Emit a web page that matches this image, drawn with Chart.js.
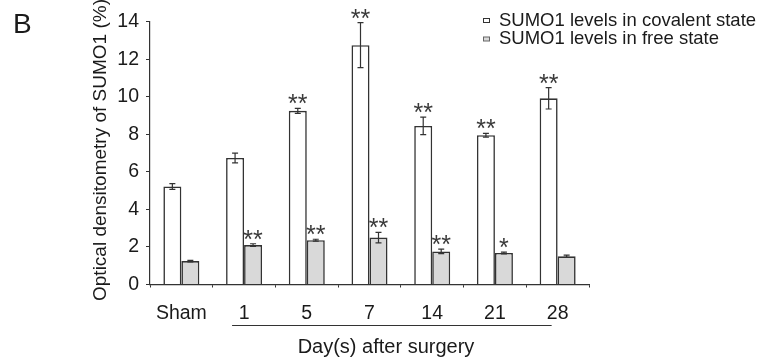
<!DOCTYPE html>
<html>
<head>
<meta charset="utf-8">
<script src="https://cdn.jsdelivr.net/npm/chart.js@4.4.0/dist/chart.umd.min.js"></script>
<style>
  html, body { margin: 0; padding: 0; background: #fff; }
  #wrap { width: 768px; height: 358px; position: relative; }
</style>
</head>
<body>
<div id="wrap"><canvas id="sumoChart" width="768" height="358"></canvas></div>
<script>
// values
const days = ['Sham', '1', '5', '7', '14', '21', '28'];
const covalent = [5.22, 6.74, 9.25, 12.75, 8.45, 7.95, 9.92];
const covalentErr = [0.15, 0.26, 0.13, 1.2, 0.47, 0.1, 0.57];
const freeState = [1.25, 2.1, 2.36, 2.5, 1.76, 1.68, 1.5];
const freeErr = [0.04, 0.07, 0.05, 0.28, 0.12, 0.05, 0.06];
const covalentSig = ['', '', '**', '**', '**', '**', '**'];
const freeSig = ['', '**', '**', '**', '**', '*', ''];
const yTicks = [0, 2, 4, 6, 8, 10, 12, 14];

const ink = '#1a1a1a';
const lineCol = '#333333';
const fontFam = '"Liberation Sans", Arial, sans-serif';
const errs = [covalentErr, freeErr];
const sigs = [covalentSig, freeSig];

// error bars, asterisks, legend, titles
const extras = {
  id: 'extras',
  afterDatasetsDraw(chart) {
    const ctx = chart.ctx;
    const y = chart.scales.y;
    ctx.save();
    chart.data.datasets.forEach((ds, di) => {
      const meta = chart.getDatasetMeta(di);
      meta.data.forEach((bar, i) => {
        const v = ds.data[i], e = errs[di][i];
        const top = y.getPixelForValue(v + e);
        const bot = y.getPixelForValue(v - e);
        ctx.strokeStyle = lineCol;
        ctx.lineWidth = 1.2;
        ctx.beginPath();
        ctx.moveTo(bar.x, top); ctx.lineTo(bar.x, bot);
        ctx.moveTo(bar.x - 3, top); ctx.lineTo(bar.x + 3, top);
        ctx.moveTo(bar.x - 3, bot); ctx.lineTo(bar.x + 3, bot);
        ctx.stroke();
        const s = sigs[di][i];
        if (s) {
          ctx.fillStyle = '#3a3a3a';
          ctx.font = '25px ' + fontFam;
          ctx.textAlign = 'center';
          ctx.textBaseline = 'alphabetic';
          ctx.fillText(s, bar.x, top + 4);
        }
      });
    });
    ctx.restore();
  },
  afterDraw(chart) {
    const ctx = chart.ctx;
    ctx.save();
    ctx.fillStyle = ink;
    // panel letter
    ctx.font = '28px ' + fontFam;
    ctx.textAlign = 'left';
    ctx.textBaseline = 'alphabetic';
    ctx.fillText('B', 13, 33);
    // y title
    ctx.font = '19px ' + fontFam;
    ctx.save();
    ctx.translate(106, 150);
    ctx.rotate(-Math.PI / 2);
    ctx.textAlign = 'center';
    ctx.fillText('Optical densitometry of SUMO1 (%)', 0, 0);
    ctx.restore();
    // bracket under days + x title
    const x = chart.scales.x;
    const x1 = x.getPixelForValue(1) - 12;
    const x2 = x.getPixelForValue(6) - 6;
    ctx.strokeStyle = lineCol;
    ctx.lineWidth = 1.2;
    ctx.beginPath();
    ctx.moveTo(x1, 325.5); ctx.lineTo(x2, 325.5);
    ctx.stroke();
    ctx.textAlign = 'center';
    ctx.font = '20px ' + fontFam;
    ctx.fillText('Day(s) after surgery', 386, 353);
    // legend
    ctx.font = '18.5px ' + fontFam;
    ctx.textAlign = 'left';
    const rows = [
      { label: chart.data.datasets[0].label, fill: '#ffffff', stroke: '#333', y: 25.5, by: 18 },
      { label: chart.data.datasets[1].label, fill: '#d9d9d9', stroke: '#666', y: 44.2, by: 36.5 }
    ];
    rows.forEach(r => {
      ctx.fillStyle = r.fill;
      ctx.strokeStyle = r.stroke;
      ctx.lineWidth = 1;
      ctx.fillRect(483.5, r.by + 0.5, 6, 4);
      ctx.strokeRect(483.5, r.by + 0.5, 6, 4);
      ctx.fillStyle = ink;
      ctx.fillText(r.label, 499, r.y);
    });
    ctx.restore();
  }
};

const ctx = document.getElementById('sumoChart').getContext('2d');
const sumoChart = new Chart(ctx, {
  type: 'bar',
  data: {
    labels: days,
    datasets: [
      {
        label: 'SUMO1 levels in covalent state',
        data: covalent,
        backgroundColor: '#ffffff',
        borderColor: lineCol,
        borderWidth: 1.6,
        categoryPercentage: 0.574,
        barPercentage: 1.0
      },
      {
        label: 'SUMO1 levels in free state',
        data: freeState,
        backgroundColor: '#d9d9d9',
        borderColor: lineCol,
        borderWidth: 1.6,
        categoryPercentage: 0.574,
        barPercentage: 1.0
      }
    ]
  },
  options: {
    responsive: false,
    animation: false,
    devicePixelRatio: 1,
    layout: { padding: { left: 0, right: 179, top: 21.7, bottom: 0 } },
    plugins: {
      legend: { display: false },
      tooltip: { enabled: false }
    },
    scales: {
      x: {
        type: 'category',
        offset: true,
        grid: { display: true, drawOnChartArea: false, offset: true, tickLength: 3, color: lineCol },
        border: { color: lineCol, width: 1.2 },
        ticks: {
          color: ink,
          font: { family: fontFam, size: 19.5 },
          padding: 14,
          maxRotation: 0
        },
        afterFit(scale) { scale.height = 358 - 284.5; }
      },
      y: {
        min: 0,
        max: 14,
        afterBuildTicks(scale) { scale.ticks = yTicks.map(v => ({ value: v })); },
        grid: { display: true, drawOnChartArea: false, tickLength: 4, color: lineCol },
        border: { color: lineCol, width: 1.2 },
        ticks: {
          color: ink,
          font: { family: fontFam, size: 19.5 },
          padding: 7
        },
        afterFit(scale) { scale.width = 150; }
      }
    }
  },
  plugins: [extras]
});
</script>
</body>
</html>
